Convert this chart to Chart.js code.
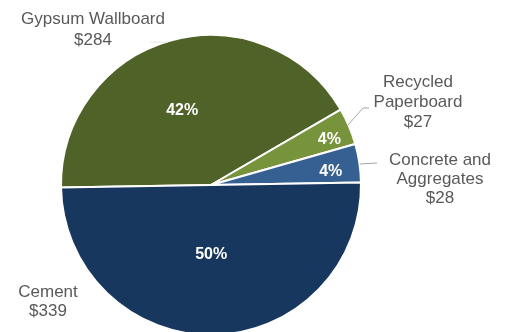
<!DOCTYPE html>
<html>
<head>
<meta charset="utf-8">
<script src="https://cdn.jsdelivr.net/npm/chart.js@4/dist/chart.umd.min.js"></script>
<style>
  html, body { margin: 0; padding: 0; background: #ffffff; overflow: hidden; width: 506px; height: 332px; }
  #wrap { position: absolute; left: 0; top: 0; width: 506px; height: 400px; }
</style>
</head>
<body>
<div id="wrap"><canvas id="c" width="506" height="400"></canvas></div>
<script>
// ---- data ----
const categories = ["Gypsum Wallboard", "Recycled Paperboard", "Concrete and Aggregates", "Cement"];
const values = [284, 27, 28, 339];
const valueLabels = ["$284", "$27", "$28", "$339"];
const colors = ["#4F6228", "#77933C", "#376092", "#17375E"];

// ---- label layout (positions only) ----
const outerLabelLines = [
  ["Gypsum Wallboard", "$284"],
  ["Recycled", "Paperboard", "$27"],
  ["Concrete and", "Aggregates", "$28"],
  ["Cement", "$339"]
];
const outerLabelPos = [
  { x: 93, y: 19, lh: 21 },
  { x: 418, y: 82, lh: 20 },
  { x: 440, y: 160, lh: 19 },
  { x: 48, y: 292, lh: 19 }
];
const leaderLines = [
  [[150, 42], [168, 42]],
  [[348, 125], [363, 108], [369, 108]],
  [[360, 164], [377, 163]],
  null
];
const pctRadius = [0.54, 0.85, 0.80, 0.45];
const pctShift = [[-7, 4], [1, 4], [1, 4], [-1, 2]];

const total = values.reduce((a, b) => a + b, 0);

const labelPlugin = {
  id: 'labels',
  afterDatasetsDraw(chart) {
    const ctx = chart.ctx;
    const meta = chart.getDatasetMeta(0);
    ctx.save();
    ctx.fillStyle = '#ffffff';
    ctx.font = 'bold 16px "Liberation Sans", Arial, sans-serif';
    ctx.textAlign = 'center';
    ctx.textBaseline = 'middle';
    meta.data.forEach((arc, i) => {
      const p = arc.getProps(['x', 'y', 'startAngle', 'endAngle', 'outerRadius'], true);
      const mid = (p.startAngle + p.endAngle) / 2;
      const r = p.outerRadius * pctRadius[i];
      const pct = Math.round(values[i] / total * 100) + '%';
      ctx.fillText(pct, p.x + Math.cos(mid) * r + pctShift[i][0], p.y + Math.sin(mid) * r + pctShift[i][1]);
    });
    ctx.lineWidth = 1;
    leaderLines.forEach((ln, i) => {
      if (!ln) return;
      ctx.strokeStyle = i === 0 ? '#e6e6e6' : '#a6a6a6';
      ctx.beginPath();
      ln.forEach((pt, k) => k ? ctx.lineTo(pt[0], pt[1]) : ctx.moveTo(pt[0], pt[1]));
      ctx.stroke();
    });
    ctx.fillStyle = '#595959';
    ctx.font = '17px "Liberation Sans", Arial, sans-serif';
    outerLabelLines.forEach((lines, i) => {
      const pos = outerLabelPos[i];
      lines.forEach((t, k) => ctx.fillText(t, pos.x, pos.y + k * pos.lh));
    });
    ctx.restore();
  }
};

new Chart(document.getElementById('c'), {
  type: 'pie',
  data: {
    labels: categories,
    datasets: [{
      data: values,
      backgroundColor: colors,
      borderColor: '#ffffff',
      borderWidth: 2,
      radius: 150
    }]
  },
  options: {
    responsive: false,
    devicePixelRatio: 1,
    animation: false,
    rotation: -91,
    layout: { padding: { left: 61, right: 145, top: 35, bottom: 65 } },
    plugins: {
      legend: { display: false },
      tooltip: { enabled: false },
      title: { display: false }
    }
  },
  plugins: [labelPlugin]
});
</script>
</body>
</html>
